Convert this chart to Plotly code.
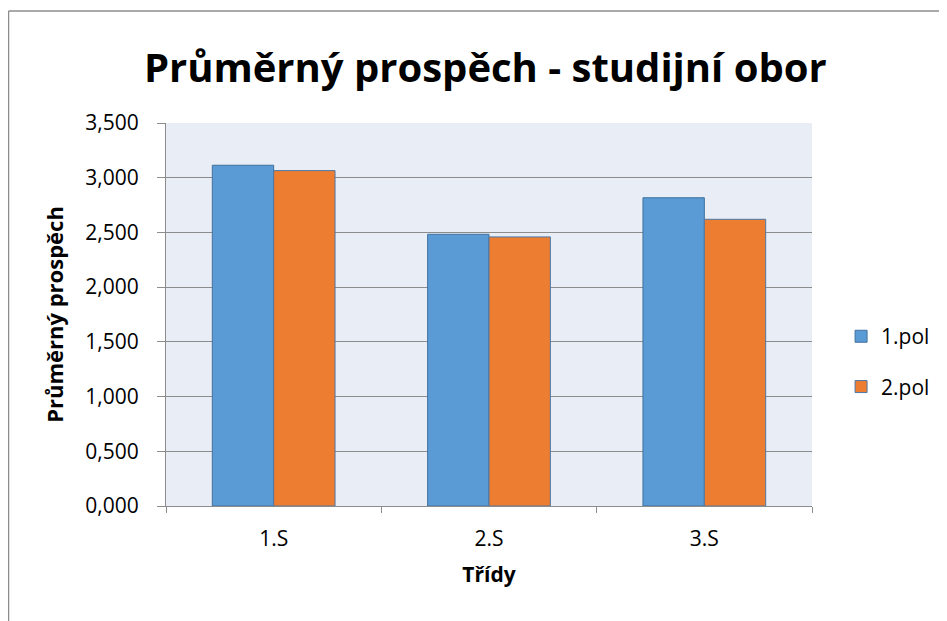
import plotly.graph_objects as go

tridy = ['1.S', '2.S', '3.S']
pol1 = [3.114, 2.483, 2.817]
pol2 = [3.065, 2.459, 2.620]
y_ticks = [0, 0.5, 1.0, 1.5, 2.0, 2.5, 3.0, 3.5]

font = 'Open Sans'
grey = '#8c8c8c'

fig = go.Figure()
fig.add_trace(go.Bar(x=tridy, y=pol1, name='1.pol', legendgroup='a',
                     marker=dict(color='#5B9BD5', line=dict(color='#41719C', width=1))))
fig.add_trace(go.Bar(x=tridy, y=pol2, name='2.pol', legendgroup='b',
                     marker=dict(color='#ED7D31', line=dict(color='#4E78A6', width=1))))

# page body has an 8px margin, so plot area is placed 8px up/left of the target
fig.update_layout(
    width=947, height=621,
    margin=dict(l=158, r=143, t=115, b=123),
    paper_bgcolor='white',
    plot_bgcolor='#E9EDF5',
    separators=', ',
    barmode='group',
    bargap=0.43,
    bargroupgap=0,
    font=dict(family=font, color='black', size=21),
    title=dict(text='<b>Průměrný prospěch - studijní obor</b>',
               x=0.504, xanchor='center', y=0.903, yanchor='middle',
               font=dict(size=40, family=font)),
    legend=dict(x=1.045, xanchor='left', y=0.377, yanchor='middle',
                font=dict(size=21), traceorder='grouped', tracegroupgap=20),
)

fig.update_yaxes(range=[0, 3.5], tickvals=y_ticks, tickformat='.3f',
                 showgrid=True, gridcolor=grey, gridwidth=1,
                 showline=True, linecolor=grey, ticks='outside', ticklen=8,
                 tickcolor=grey, zeroline=False, ticklabelstandoff=14,
                 title=dict(text='<b>Průměrný prospěch</b>', font=dict(size=22), standoff=15))
fig.update_xaxes(showline=True, linecolor=grey, ticks='outside', ticklen=6,
                 tickcolor=grey, tickson='boundaries', ticklabelstandoff=14,
                 title=dict(text='<b>Třídy</b>', font=dict(size=21), standoff=16))

# outer chart frame
fig.add_shape(type='line', xref='paper', yref='paper',
              x0=(0.5 - 158) / 646, x1=(947 - 158) / 646,
              y0=(498 - 3) / 383, y1=(498 - 3) / 383,
              line=dict(color=grey, width=1.5))
fig.add_shape(type='line', xref='paper', yref='paper',
              x0=(0.5 - 158) / 646, x1=(0.5 - 158) / 646,
              y0=(498 - 3) / 383, y1=(498 - 625) / 383,
              line=dict(color=grey, width=1.5))

fig.write_html('out.html')
